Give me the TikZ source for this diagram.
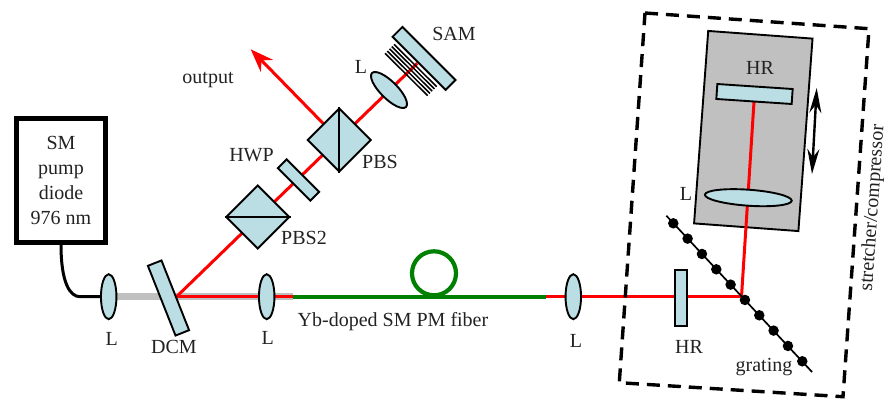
\documentclass[tikz,border=0pt]{standalone}
\usepackage{fontspec}
\setmainfont{Liberation Serif}
\usetikzlibrary{arrows.meta,shapes.geometric,positioning}
\definecolor{optik}{HTML}{BADEE3}
\definecolor{stage}{HTML}{C0C0C0}
\definecolor{fibergreen}{HTML}{008000}
\definecolor{schrift}{HTML}{222222}
\pgfdeclarelayer{back}
\pgfdeclarelayer{beam}
\pgfsetlayers{back,beam,main}

\begin{document}
\begin{tikzpicture}[x=1pt,y=-1pt,font=\fontsize{20}{23}\selectfont,text=schrift,line width=1.9pt]
\tikzstyle{komp}=[rectangle,line width=1.9pt,draw=black,fill=optik,inner sep=0pt]
\tikzstyle{linse}=[ellipse,line width=1.9pt,draw=black,fill=optik,inner sep=0pt]
\tikzstyle{cube}=[rectangle,line width=1.9pt,draw=black,fill=optik,inner sep=0pt,minimum size=44.6pt,rotate=45]
\tikzstyle{laser}=[red,line width=3pt]
\tikzstyle{fiber}=[fibergreen,line width=4.2pt]
\tikzstyle{pumpfiber}=[stage,line width=6.8pt]
\tikzstyle{gitter}=[circle,fill=black,inner sep=0pt,minimum size=10.5pt]
\tikzstyle{lbl}=[inner sep=0pt]
\useasboundingbox (0,0) rectangle (895,402);

\node[rectangle,draw=black,line width=4.4pt,minimum width=89pt,minimum height=124pt,align=center,
      inner sep=0pt,font=\fontsize{20}{25}\selectfont] (pump) at (61,180.5) {SM\\pump\\diode\\976 nm};

\node[linse,minimum width=15.5pt,minimum height=45pt] (lens1) at (108.7,296.7) {};
\node[komp,minimum width=14.6pt,minimum height=75pt,rotate=21.6] (dcm) at (168.5,298) {};
\node[linse,minimum width=15.5pt,minimum height=45pt] (lens2) at (266.7,296.7) {};
\node[linse,minimum width=15.5pt,minimum height=45pt] (lens3) at (573.3,296.7) {};

\coordinate (hit) at (176.5,296.7);
\coordinate (pumpend) at (293,296.7);
\coordinate (fiberend) at (546,296.7);
\coordinate (turn) at (741.5,296.7);

\node[cube] (pbs2) at (257.7,217) {};
\draw (pbs2.north west) -- (pbs2.south east);
\node[komp,minimum width=46pt,minimum height=12.5pt,rotate=-45] (hwp) at (298.5,180) {};
\node[cube] (pbs) at (339.3,140) {};
\draw (pbs.north east) -- (pbs.south west);
\node[linse,minimum width=48pt,minimum height=17pt,rotate=-45] (lens4) at (389,90) {};
\node[komp,minimum width=75pt,minimum height=14pt,rotate=-45] (sam) at (424,58.4) {};
\coordinate (samhit) at (417.3,63.3);

% multilayer lines in front of the SAM
\foreach \i in {0,1,2,3,4}
  \draw[line width=1.5pt] (394-\i*2.25,44.3+\i*2.25) -- ++(42.7,42.4);

\node[komp,minimum width=12.4pt,minimum height=55.7pt] (hr2) at (681,298) {};

\begin{pgfonlayer}{back}
\node[rectangle,line width=1.9pt,draw=black,fill=stage,minimum width=104.6pt,minimum height=193pt,rotate=-4.2] (stagebox) at (753.3,131) {};
\end{pgfonlayer}
\node[komp,minimum width=75.5pt,minimum height=15pt,rotate=-3.8] (hr1) at (754.5,94) {};
\node[linse,minimum width=87pt,minimum height=16pt,rotate=-4] (lens5) at (748.3,197.7) {};

\begin{pgfonlayer}{beam}
\draw[pumpfiber] (lens1.center) -- (pumpend);
\draw[laser] (hit) -- (pumpend);
\draw[fiber] (pumpend) -- (fiberend);
\draw[fiber] (434,273.3) circle (22);
\draw[laser] (fiberend) -- (turn);
\draw[laser] (turn) -- (hr1.center);
\draw[laser] (hit) -- (samhit);
\draw[laser,-{Stealth[length=23pt,width=17pt]}] (pbs.center) -- (250.7,49.3);
\end{pgfonlayer}

\draw[line width=3pt] (pump.south) .. controls (61,283) and (70,296.7) .. (80,296.7) -- (lens1.west);

% grating
\node[inner sep=0pt] (g0) at (665.7,215) {};
\node[inner sep=0pt] (g1) at (812.7,372.7) {};
\draw[line width=1.7pt] (g0) -- (g1);
\foreach \i in {0,...,9}
  \node[gitter] (dot\i) at (673.3+\i*14.33,223.3+\i*15.33) {};

% stretcher frame
\draw[dash pattern=on 13pt off 8pt,line width=3.4pt] (645,13) -- (869,28.7) -- (843,396.7) -- (619.3,382.7) -- cycle;

\draw[{Stealth[length=25pt,width=12pt]}-{Stealth[length=25pt,width=12pt]},line width=2.4pt] (816.7,88) -- (812,174);

\node[lbl] (l1) at (111.7,339) {L};
\node[lbl] (l2) at (267.7,338) {L};
\node[lbl] (l3) at (576,341) {L};
\node[lbl] (l4) at (361,67) {L};
\node[lbl] (l5) at (686,194) {L};
\node[lbl] at (174,347) (dcmtext) {DCM};
\node[lbl] at (208,80) (outtext) {output};
\node[lbl] at (251.5,155) (hwptext) {HWP};
\node[lbl] at (380,162) (pbstext) {PBS};
\node[lbl] at (304,238) (pbstwotext) {PBS2};
\node[lbl] at (454,34) (samtext) {SAM};
\node[lbl] at (393,322) (fibertext) {Yb-doped SM PM fiber};
\node[lbl] at (760,68) (hrtext) {HR};
\node[lbl] at (689,347) (hrtexttwo) {HR};
\node[lbl] at (764,367) (gratingtext) {grating};
\node[lbl,rotate=86] at (873,208) (stretchtext) {stretcher/compressor};
\end{tikzpicture}
\end{document}
